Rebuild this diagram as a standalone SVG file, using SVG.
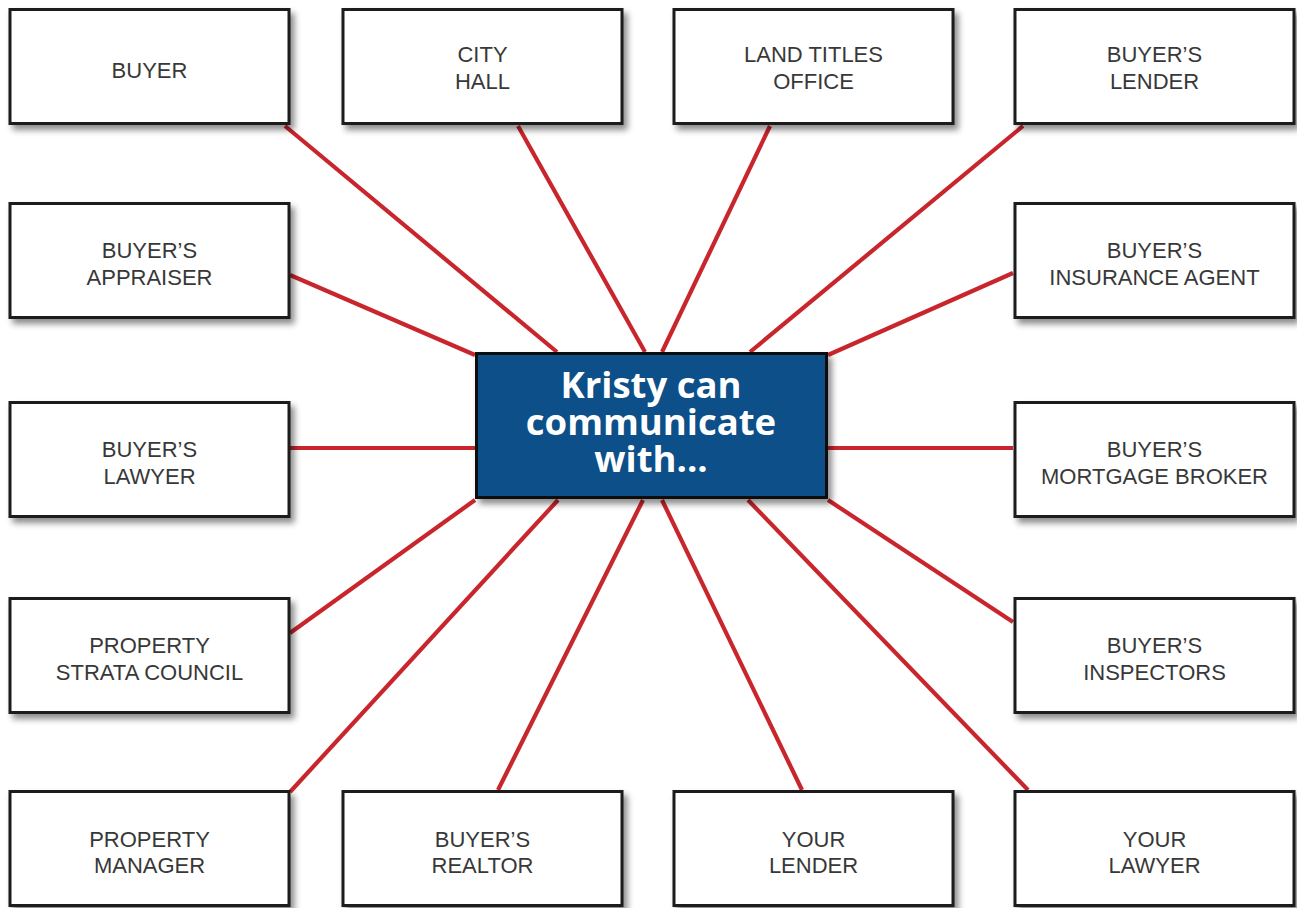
<svg xmlns="http://www.w3.org/2000/svg" width="1297" height="908" viewBox="0 0 1297 908">
<defs>
<filter id="sh" x="-10%" y="-10%" width="125%" height="130%">
<feDropShadow dx="4" dy="5" stdDeviation="3" flood-color="#000" flood-opacity="0.45"/>
</filter>
<style>
.box{fill:#fff;stroke:#1a1a1a;stroke-width:3;filter:url(#sh)}
.lbl{font-family:"Liberation Sans",Arial,sans-serif;font-size:22px;fill:#383838;text-anchor:middle}
.hub{fill:#0b5089;stroke:#111;stroke-width:3;filter:url(#sh)}
.hubt{font-family:"Open Sans","Noto Sans",sans-serif;font-weight:bold;font-size:36.5px;fill:#fff;text-anchor:middle}
.c{stroke:#c8262c;stroke-width:4.2;fill:none}
</style>
</defs>
<rect width="1297" height="908" fill="#fff"/>
<g id="connectors">
<line class="c" x1="285" y1="126" x2="557" y2="352"/>
<line class="c" x1="518" y1="126" x2="645" y2="352"/>
<line class="c" x1="770" y1="126" x2="662" y2="352"/>
<line class="c" x1="1023" y1="126" x2="750" y2="352"/>
<line class="c" x1="290" y1="275" x2="475" y2="355"/>
<line class="c" x1="1013" y1="273" x2="828" y2="355"/>
<line class="c" x1="290" y1="448" x2="475" y2="448"/>
<line class="c" x1="827" y1="448" x2="1013" y2="448"/>
<line class="c" x1="290" y1="633" x2="475" y2="500"/>
<line class="c" x1="828" y1="500" x2="1013" y2="622"/>
<line class="c" x1="290" y1="792" x2="558" y2="500"/>
<line class="c" x1="498" y1="790" x2="643" y2="500"/>
<line class="c" x1="802" y1="790" x2="662" y2="500"/>
<line class="c" x1="1028" y1="790" x2="748" y2="500"/>
</g>
<g id="buyer"><rect class="box" x="10" y="9.5" width="279" height="114"/><text class="lbl" x="149.5" y="77.5">BUYER</text></g>
<g id="city-hall"><rect class="box" x="343" y="9.5" width="279" height="114"/><text class="lbl" x="482.5" y="62">CITY</text><text class="lbl" x="482.5" y="89">HALL</text></g>
<g id="land-titles-office"><rect class="box" x="674" y="9.5" width="279" height="114"/><text class="lbl" x="813.5" y="62">LAND TITLES</text><text class="lbl" x="813.5" y="89">OFFICE</text></g>
<g id="buyers-lender"><rect class="box" x="1015" y="9.5" width="279" height="114"/><text class="lbl" x="1154.5" y="62">BUYER’S</text><text class="lbl" x="1154.5" y="89">LENDER</text></g>
<g id="buyers-appraiser"><rect class="box" x="10" y="203.5" width="279" height="114"/><text class="lbl" x="149.5" y="258">BUYER’S</text><text class="lbl" x="149.5" y="285">APPRAISER</text></g>
<g id="buyers-insurance-agent"><rect class="box" x="1015" y="203.5" width="279" height="114"/><text class="lbl" x="1154.5" y="258">BUYER’S</text><text class="lbl" x="1154.5" y="285">INSURANCE AGENT</text></g>
<g id="buyers-lawyer"><rect class="box" x="10" y="402.5" width="279" height="114"/><text class="lbl" x="149.5" y="457">BUYER’S</text><text class="lbl" x="149.5" y="484">LAWYER</text></g>
<g id="buyers-mortgage-broker"><rect class="box" x="1015" y="402.5" width="279" height="114"/><text class="lbl" x="1154.5" y="457">BUYER’S</text><text class="lbl" x="1154.5" y="484">MORTGAGE BROKER</text></g>
<g id="property-strata-council"><rect class="box" x="10" y="598.5" width="279" height="114"/><text class="lbl" x="149.5" y="653">PROPERTY</text><text class="lbl" x="149.5" y="680">STRATA COUNCIL</text></g>
<g id="buyers-inspectors"><rect class="box" x="1015" y="598.5" width="279" height="114"/><text class="lbl" x="1154.5" y="653">BUYER’S</text><text class="lbl" x="1154.5" y="680">INSPECTORS</text></g>
<g id="property-manager"><rect class="box" x="10" y="791.5" width="279" height="114"/><text class="lbl" x="149.5" y="847">PROPERTY</text><text class="lbl" x="149.5" y="873">MANAGER</text></g>
<g id="buyers-realtor"><rect class="box" x="343" y="791.5" width="279" height="114"/><text class="lbl" x="482.5" y="847">BUYER’S</text><text class="lbl" x="482.5" y="873">REALTOR</text></g>
<g id="your-lender"><rect class="box" x="674" y="791.5" width="279" height="114"/><text class="lbl" x="813.5" y="847">YOUR</text><text class="lbl" x="813.5" y="873">LENDER</text></g>
<g id="your-lawyer"><rect class="box" x="1015" y="791.5" width="279" height="114"/><text class="lbl" x="1154.5" y="847">YOUR</text><text class="lbl" x="1154.5" y="873">LAWYER</text></g>
<g id="hub"><rect class="hub" x="476.5" y="353.5" width="350" height="144"/><text class="hubt" x="651" y="398">Kristy can</text><text class="hubt" x="651" y="435">communicate</text><text class="hubt" x="651" y="472">with...</text></g>
</svg>
